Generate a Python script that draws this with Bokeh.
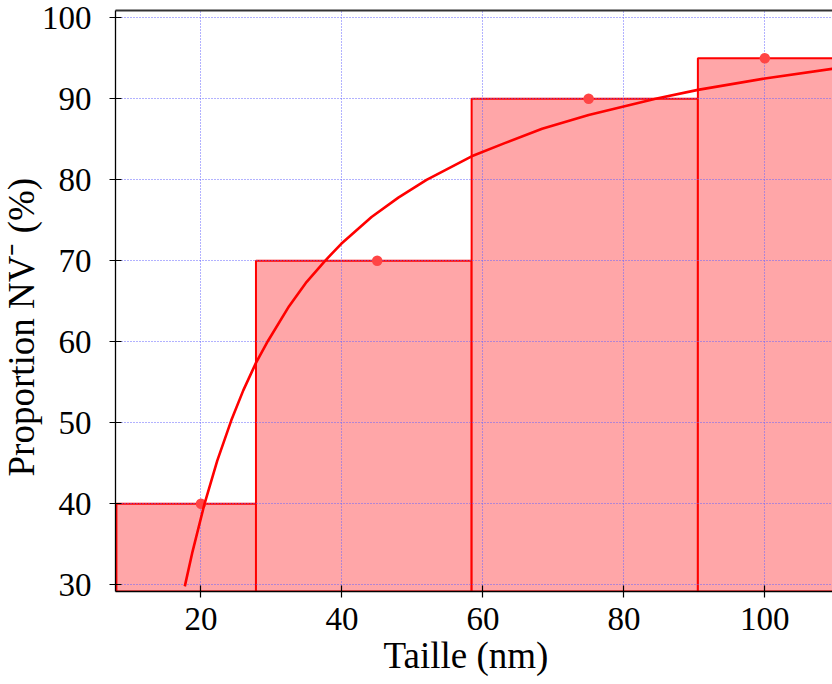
from bokeh.plotting import figure
from bokeh.models import Range1d, FixedTicker, LinearAxis, ColumnDataSource, Title
from bokeh.embed import file_html
from bokeh.resources import INLINE

# ---- data ----
bar_left = [8.0, 27.8, 58.4, 90.5]
bar_right = [27.8, 58.4, 90.5, 112.0]
bar_height = [40, 70, 90, 95]

point_x = [20, 45, 75, 100]
point_y = [40, 70, 90, 95]

curve_x = [17.7, 18.8, 20.5, 22.3, 24.3, 26.0, 27.8, 29.5, 32.5, 35.0, 37.6, 39.9,
           44.2, 48.0, 52.0, 58.4, 63.0, 68.4, 75.0, 82.6, 84.5, 90.5, 100.0, 109.6]
curve_y = [29.8, 34.1, 40.0, 45.3, 50.3, 54.0, 57.4, 60.1, 64.4, 67.4, 70.0, 72.1,
           75.4, 77.8, 80.0, 82.9, 84.5, 86.3, 88.0, 89.6, 90.0, 91.1, 92.5, 93.7]

x_ticks = [20, 40, 60, 80, 100]
y_ticks = [30, 40, 50, 60, 70, 80, 90, 100]

x_label = "Taille (nm)"
y_label = "Proportion NV\u207b (%)"

x_min, x_max = 7.87, 109.6
y_min, y_max = 29.17, 100.9

FONT = "Liberation Serif"

p = figure(width=832, height=684, output_backend="svg", toolbar_location=None,
           x_range=Range1d(x_min, x_max), y_range=Range1d(y_min, y_max),
           min_border_left=115, min_border_right=0, min_border_top=10,
           min_border_bottom=93)
p.outline_line_color = None
p.background_fill_color = "white"
p.border_fill_color = "white"

bars = ColumnDataSource(dict(left=bar_left, right=bar_right, top=bar_height,
                             bottom=[y_min] * len(bar_left)))
r_bars = p.quad(left="left", right="right", top="top", bottom="bottom", source=bars,
                fill_color="#ffa6a8", line_color="#ff0000", line_width=2)
r_bars.level = "image"

p.scatter(point_x, point_y, size=10.5, fill_color="#ff4545", line_color=None)
p.line(curve_x, curve_y, line_color="#ff0000", line_width=2.6, line_join="round")

for g in (p.xgrid, p.ygrid):
    g.grid_line_color = "#6464ff"
    g.grid_line_alpha = 1.0
    g.grid_line_width = 1
    g.grid_line_dash = "1 2"
    g.level = "underlay"
p.xgrid.ticker = FixedTicker(ticks=x_ticks)
p.ygrid.ticker = FixedTicker(ticks=y_ticks)

p.xaxis.ticker = FixedTicker(ticks=x_ticks)
p.yaxis.ticker = FixedTicker(ticks=y_ticks)

for ax in (p.xaxis, p.yaxis):
    ax.axis_line_color = "black"
    ax.axis_line_width = 1.3
    ax.major_tick_in = 6
    ax.major_tick_out = 6
    ax.major_tick_line_width = 1.2
    ax.minor_tick_line_color = None
    ax.major_label_text_font = FONT
    ax.major_label_text_font_size = "33px"
    ax.major_label_text_color = "black"

p.yaxis.major_label_standoff = 18
p.xaxis.major_label_standoff = 10

top_axis = LinearAxis(ticker=FixedTicker(ticks=[]), major_label_text_font_size="0px",
                      axis_line_color="#333333", axis_line_width=2,
                      major_tick_line_color=None, minor_tick_line_color=None)
p.add_layout(top_axis, "above")

# axis titles (offset so they sit where the reference puts them)
p.add_layout(Title(text=x_label, align="left", offset=268, standoff=0,
                   text_font=FONT, text_font_size="37px", text_font_style="normal",
                   text_color="black"), "below")
p.add_layout(Title(text=y_label, align="left", offset=115, standoff=-6,
                   text_font=FONT, text_font_size="37px", text_font_style="normal",
                   text_color="black"), "left")

open("out.html", "w").write(file_html(p, INLINE))
